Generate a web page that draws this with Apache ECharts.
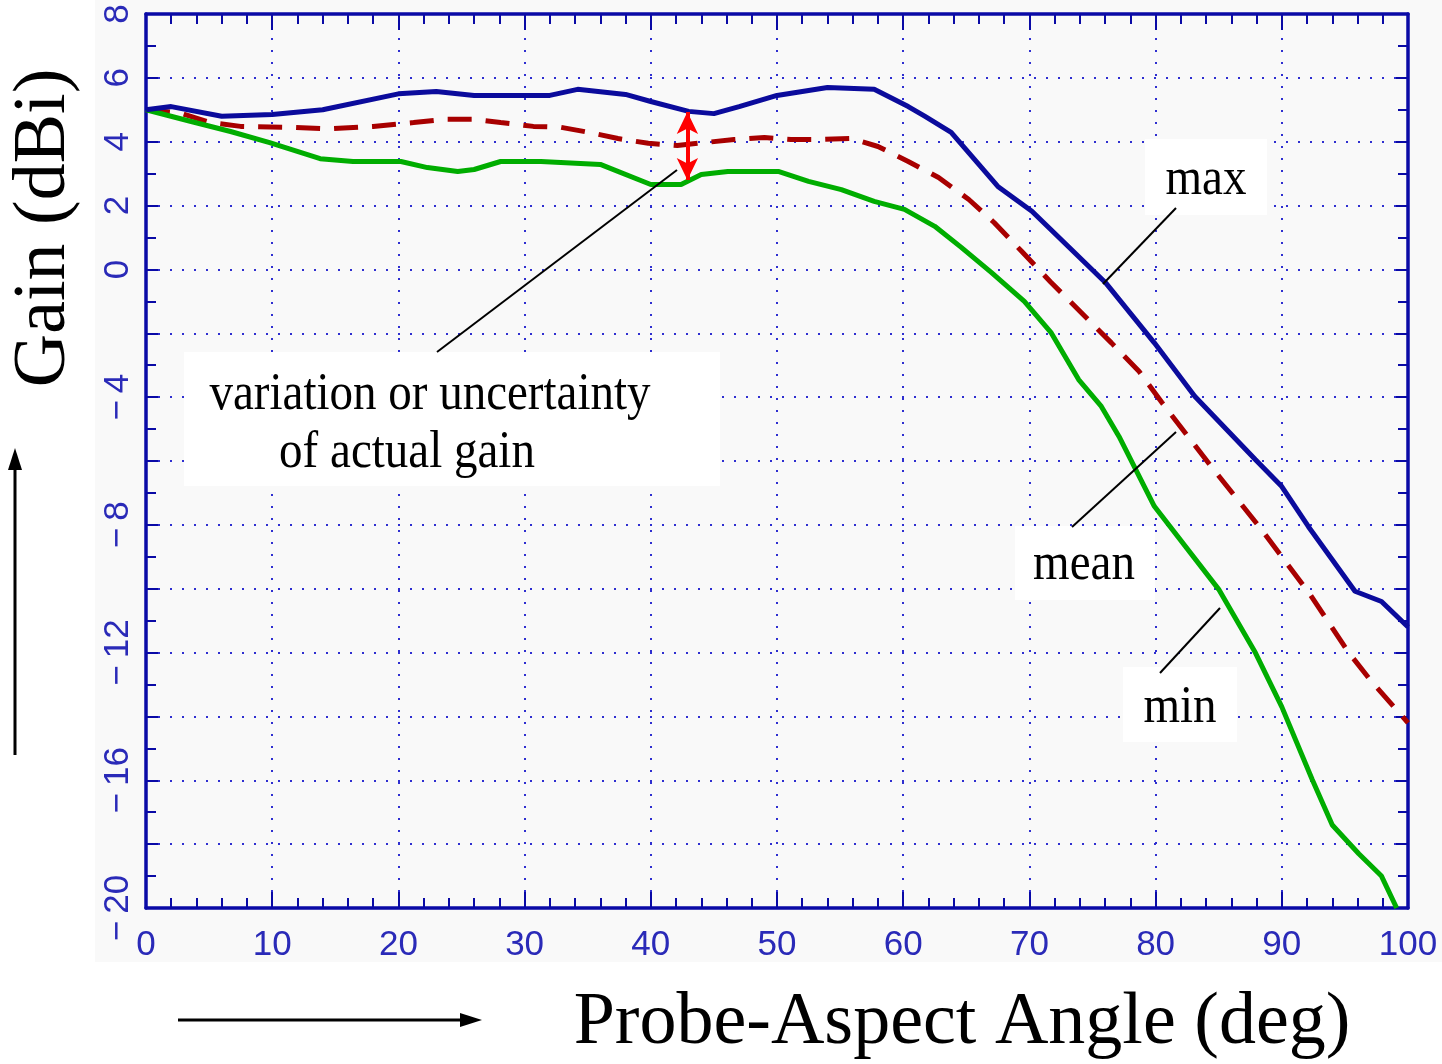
<!DOCTYPE html>
<html>
<head>
<meta charset="utf-8">
<script src="https://cdn.jsdelivr.net/npm/echarts@6/dist/echarts.min.js"></script>
<style>
html,body{margin:0;padding:0;background:#ffffff;}
#chart{width:1442px;height:1064px;}
</style>
</head>
<body>
<div id="chart"></div>
<script>
// ---- data ----
const maxAngle = [0, 2, 6, 10, 14, 20, 23, 26, 32, 34.2, 38, 40, 43, 45, 47, 50, 54, 57.7, 60.4, 61.7, 63.8, 67.5, 70.2, 76, 79.9, 83.1, 87.9, 90, 92.1, 95.8, 97.9, 100];
const maxGain  = [5.0, 5.1, 4.8, 4.85, 5.0, 5.5, 5.57, 5.45, 5.45, 5.64, 5.48, 5.26, 4.95, 4.88, 5.1, 5.45, 5.7, 5.64, 5.1, 4.8, 4.29, 2.6, 1.82, -0.4, -2.3, -3.97, -5.95, -6.8, -8.05, -10.08, -10.4, -11.2];

const meanAngle = [0, 2.7, 5.1, 7.5, 11.4, 14.4, 18, 21.2, 23.6, 26, 28.1, 30.7, 32.9, 35, 37.4, 39.8, 42.1, 44.2, 46.6, 49, 51.1, 53.5, 55.9, 58, 60.4, 62.8, 65.2, 67.2, 69.4, 71.7, 74.1, 76.5, 78.7, 80.5, 84.4, 88.2, 90, 92.1, 95.3, 97.1, 100];
const meanGain  = [5.0, 4.9, 4.6, 4.48, 4.45, 4.4, 4.48, 4.6, 4.7, 4.7, 4.6, 4.48, 4.45, 4.3, 4.1, 3.95, 3.88, 3.97, 4.07, 4.13, 4.07, 4.07, 4.1, 3.85, 3.38, 2.88, 2.19, 1.47, 0.56, -0.4, -1.35, -2.3, -3.2, -4.17, -6.17, -8.05, -9.0, -10.1, -12.0, -12.9, -14.2];

const minAngle = [0, 3.5, 6.7, 9.8, 13.8, 16.4, 20.2, 22.3, 24.7, 26, 28.1, 31.3, 36, 40, 42.4, 44, 46.1, 50.1, 52.5, 55.1, 57.7, 60.1, 62.5, 64.6, 67, 69.6, 71.7, 73.9, 75.7, 77.1, 79.9, 85, 87.9, 90, 92.4, 94, 96.1, 97.9, 99.1];
const minGain  = [5.0, 4.64, 4.32, 3.97, 3.47, 3.38, 3.38, 3.19, 3.07, 3.13, 3.38, 3.38, 3.29, 2.66, 2.66, 2.97, 3.07, 3.07, 2.76, 2.5, 2.13, 1.88, 1.35, 0.69, -0.1, -1.0, -1.97, -3.45, -4.29, -5.23, -7.42, -10.02, -12.0, -13.7, -15.97, -17.4, -18.3, -19.0, -20.0];

const xTickLabels = [0, 10, 20, 30, 40, 50, 60, 70, 80, 90, 100];
const yTickLabels = [8, 6, 4, 2, 0, -4, -8, -12, -16, -20];

// variation arrow (angle, upper gain, lower gain)
const variationArrow = [42.9, 4.93, 2.8];

// ---- build ----
const zip = (a, b) => a.map((v, i) => [v, b[i]]);
const AX = '#0a0aa6';
const LBL = '#2a2ab8';
const GRID = '#2f2fd0';
const SERIF = '"Liberation Serif","Times New Roman",serif';

const chart = echarts.init(document.getElementById('chart'), null, {renderer: 'canvas'});

const baseX = {
  type: 'value', min: 0, max: 100, interval: 10,
  axisLine: {show: true, onZero: false, lineStyle: {color: AX, width: 3.5}},
  axisTick: {show: true, inside: true, length: 16, lineStyle: {color: AX, width: 2}},
  minorTick: {show: true, splitNumber: 5, length: 10, lineStyle: {color: AX, width: 2}},
};
const baseY = {
  type: 'value', min: -20, max: 8, interval: 2,
  axisLine: {show: true, onZero: false, lineStyle: {color: AX, width: 3.5}},
  axisTick: {show: true, inside: true, length: 12, lineStyle: {color: AX, width: 2}},
  minorTick: {show: true, splitNumber: 2, length: 10, lineStyle: {color: AX, width: 2}},
};

const option = {
  animation: false,
  backgroundColor: '#ffffff',
  grid: {left: 146, right: 34, top: 14, bottom: 156},
  xAxis: [
    Object.assign({}, baseX, {
      position: 'bottom',
      axisLabel: {
        show: true, margin: 20, color: LBL, fontSize: 35,
        fontFamily: '"Liberation Sans",Arial,sans-serif',
        formatter: v => xTickLabels.includes(v) ? String(v) : ''
      },
      splitLine: {show: true, lineStyle: {color: GRID, width: 2, type: [2, 10]}}
    }),
    Object.assign({}, baseX, {
      position: 'top',
      axisLabel: {show: false},
      splitLine: {show: false}
    })
  ],
  yAxis: [
    Object.assign({}, baseY, {
      position: 'left',
      axisLabel: {
        show: true, rotate: 90, margin: 10, color: LBL, fontSize: 35,
        fontFamily: '"Liberation Sans",Arial,sans-serif',
        formatter: v => yTickLabels.includes(v) ? (v < 0 ? '\u2212\u2009' + Math.abs(v) : String(v)) : ''
      },
      splitLine: {show: true, lineStyle: {color: GRID, width: 2, type: [2, 10]}}
    }),
    Object.assign({}, baseY, {
      position: 'right',
      axisLabel: {show: false},
      splitLine: {show: false}
    })
  ],
  series: [
    {
      name: 'max', type: 'line', xAxisIndex: 0, yAxisIndex: 0,
      data: zip(maxAngle, maxGain), showSymbol: false, symbol: 'none', z: 4,
      lineStyle: {color: '#0b0b9c', width: 5},
      markLine: {
        silent: true, symbol: ['arrow', 'arrow'], symbolSize: [16, 22],
        label: {show: false},
        lineStyle: {color: '#ff0000', width: 4, type: 'solid'},
        emphasis: {disabled: true},
        data: [[{coord: [variationArrow[0], variationArrow[1]]}, {coord: [variationArrow[0], variationArrow[2]]}]]
      }
    },
    {
      name: 'mean', type: 'line', xAxisIndex: 0, yAxisIndex: 0,
      data: zip(meanAngle, meanGain), showSymbol: false, symbol: 'none', z: 3,
      lineStyle: {color: '#a80000', width: 5, type: [24, 14]}
    },
    {
      name: 'min', type: 'line', xAxisIndex: 0, yAxisIndex: 0,
      data: zip(minAngle, minGain), showSymbol: false, symbol: 'none', z: 3,
      lineStyle: {color: '#00ad00', width: 5}
    }
  ],
  graphic: [
    // light panel behind the plot
    {type: 'rect', z: -100, silent: true, shape: {x: 95, y: 0, width: 1347, height: 962}, style: {fill: '#f9f9f9'}},

    // variation annotation
    {type: 'rect', z: 1, silent: true, shape: {x: 184, y: 352, width: 536, height: 134}, style: {fill: '#ffffff'}},
    {type: 'line', z: 5, silent: true, shape: {x1: 437, y1: 352, x2: 677, y2: 170}, style: {stroke: '#000', lineWidth: 2}},
    {type: 'text', z: 6, silent: true, x: 430, y: 395, scaleY: 1.12,
      style: {text: 'variation or uncertainty', font: '47px ' + SERIF, fill: '#000', align: 'center', verticalAlign: 'middle'}},
    {type: 'text', z: 6, silent: true, x: 407, y: 453, scaleY: 1.12,
      style: {text: 'of actual gain', font: '47px ' + SERIF, fill: '#000', align: 'center', verticalAlign: 'middle'}},

    // max
    {type: 'rect', z: 1, silent: true, shape: {x: 1145, y: 139, width: 122, height: 76}, style: {fill: '#ffffff'}},
    {type: 'line', z: 5, silent: true, shape: {x1: 1176, y1: 208, x2: 1103, y2: 284}, style: {stroke: '#000', lineWidth: 2}},
    {type: 'text', z: 6, silent: true, x: 1206, y: 180, scaleY: 1.12,
      style: {text: 'max', font: '47px ' + SERIF, fill: '#000', align: 'center', verticalAlign: 'middle'}},

    // mean
    {type: 'rect', z: 1, silent: true, shape: {x: 1015, y: 526, width: 140, height: 74}, style: {fill: '#ffffff'}},
    {type: 'line', z: 5, silent: true, shape: {x1: 1072, y1: 527, x2: 1176, y2: 432}, style: {stroke: '#000', lineWidth: 2}},
    {type: 'text', z: 6, silent: true, x: 1084, y: 565, scaleY: 1.12,
      style: {text: 'mean', font: '47px ' + SERIF, fill: '#000', align: 'center', verticalAlign: 'middle'}},

    // min
    {type: 'rect', z: 1, silent: true, shape: {x: 1123, y: 667, width: 114, height: 75}, style: {fill: '#ffffff'}},
    {type: 'line', z: 5, silent: true, shape: {x1: 1160, y1: 673, x2: 1220, y2: 608}, style: {stroke: '#000', lineWidth: 2}},
    {type: 'text', z: 6, silent: true, x: 1180, y: 708, scaleY: 1.12,
      style: {text: 'min', font: '47px ' + SERIF, fill: '#000', align: 'center', verticalAlign: 'middle'}},

    // axis titles
    {type: 'text', z: 6, silent: true, x: 45, y: 228, rotation: Math.PI / 2,
      style: {text: 'Gain (dBi)', font: '74px ' + SERIF, fill: '#000', align: 'center', verticalAlign: 'middle'}},
    {type: 'text', z: 6, silent: true, x: 962, y: 1024,
      style: {text: 'Probe-Aspect Angle (deg)', font: '74px ' + SERIF, fill: '#000', align: 'center', verticalAlign: 'middle'}},

    // arrows beside titles
    {type: 'line', silent: true, shape: {x1: 15, y1: 755, x2: 15, y2: 468}, style: {stroke: '#000', lineWidth: 3}},
    {type: 'polygon', silent: true, shape: {points: [[15, 448], [8, 470], [22, 470]]}, style: {fill: '#000'}},
    {type: 'line', silent: true, shape: {x1: 178, y1: 1020, x2: 462, y2: 1020}, style: {stroke: '#000', lineWidth: 3}},
    {type: 'polygon', silent: true, shape: {points: [[482, 1020], [460, 1013], [460, 1027]]}, style: {fill: '#000'}}
  ]
};

chart.setOption(option);
</script>
</body>
</html>
